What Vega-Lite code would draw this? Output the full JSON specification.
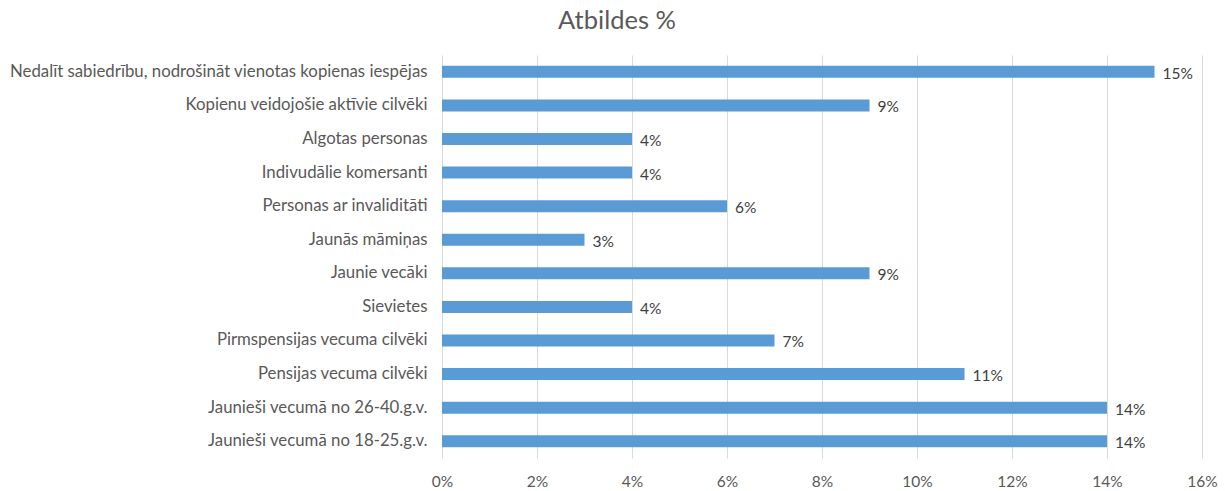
{
  "$schema": "https://vega.github.io/schema/vega-lite/v6.json",
  "autosize": {"type": "none"},
  "width": 760,
  "height": 403,
  "padding": {"left": 442, "top": 55, "right": 23, "bottom": 33},
  "background": "white",
  "title": {
    "text": "Atbildes %",
    "fontSize": 25.5,
    "font": "Lato",
    "fontWeight": "normal",
    "color": "#595959",
    "anchor": "middle",
    "dx": -205,
    "offset": 21
  },
  "data": {
    "values": [
      {"grupa": "Nedalīt sabiedrību, nodrošināt vienotas kopienas iespējas", "v": 0.15},
      {"grupa": "Kopienu veidojošie aktīvie cilvēki", "v": 0.09},
      {"grupa": "Algotas personas", "v": 0.04},
      {"grupa": "Indivudālie komersanti", "v": 0.04},
      {"grupa": "Personas ar invaliditāti", "v": 0.06},
      {"grupa": "Jaunās māmiņas", "v": 0.03},
      {"grupa": "Jaunie vecāki", "v": 0.09},
      {"grupa": "Sievietes", "v": 0.04},
      {"grupa": "Pirmspensijas vecuma cilvēki", "v": 0.07},
      {"grupa": "Pensijas vecuma cilvēki", "v": 0.11},
      {"grupa": "Jaunieši vecumā no 26-40.g.v.", "v": 0.14},
      {"grupa": "Jaunieši vecumā no 18-25.g.v.", "v": 0.14}
    ]
  },
  "encoding": {
    "y": {
      "field": "grupa",
      "type": "nominal",
      "sort": null,
      "title": null,
      "axis": {
        "domain": false,
        "ticks": false,
        "labelPadding": 15,
        "labelFont": "Lato",
        "labelFontSize": 16.8,
        "labelColor": "#595959",
        "labelLimit": 460
      }
    },
    "x": {
      "field": "v",
      "type": "quantitative",
      "title": null,
      "scale": {"domain": [0, 0.16], "nice": false},
      "axis": {
        "format": ".0%",
        "values": [0, 0.02, 0.04, 0.06, 0.08, 0.1, 0.12, 0.14, 0.16],
        "domain": false,
        "ticks": false,
        "grid": true,
        "gridColor": "#d9d9d9",
        "labelFlush": false,
        "labelPadding": 16,
        "labelFont": "Lato",
        "labelFontSize": 15.5,
        "labelColor": "#595959"
      }
    }
  },
  "layer": [
    {"mark": {"type": "bar", "color": "#5B9BD5", "size": 12}},
    {
      "mark": {"type": "text", "align": "left", "dx": 8, "dy": 2, "font": "Lato", "fontSize": 15.5, "color": "#404040"},
      "encoding": {"text": {"field": "v", "type": "quantitative", "format": ".0%"}}
    }
  ],
  "config": {"view": {"stroke": null}}
}
